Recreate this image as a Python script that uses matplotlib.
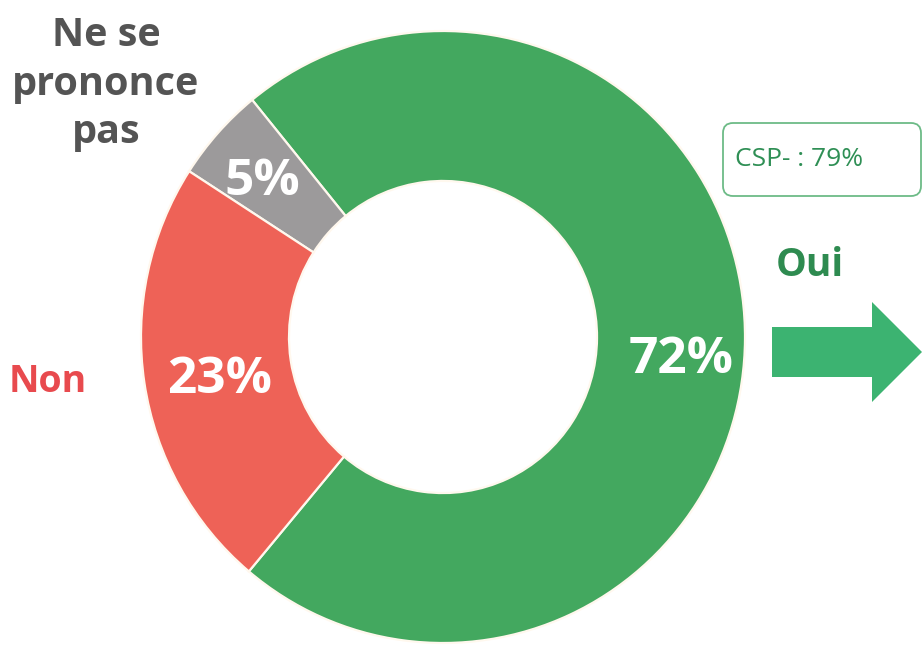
import matplotlib
matplotlib.use("Agg")
import matplotlib.pyplot as plt
from matplotlib.patches import FancyBboxPatch, FancyArrow

# Data
categories = ["Oui", "Ne se\nprononce\npas", "Non"]
values = [72, 5, 23]
colors = ["#43A85F", "#9C9A9B", "#EE6257"]
highlight_label = "CSP- : 79%"

W, H = 924, 646
fig = plt.figure(figsize=(W / 100, H / 100), dpi=100)
fig.patch.set_facecolor("white")

# Donut axes, centre (443, 337), radius ~302 x 306 px
cx, cy, rx, ry = 443, 337, 302, 306
pax = fig.add_axes([(cx - rx) / W, (H - cy - ry) / H, 2 * rx / W, 2 * ry / H])
wedges, _ = pax.pie(values, colors=colors, startangle=-130, counterclock=True,
                    radius=1.0,
                    wedgeprops=dict(width=0.49, edgecolor="#FFF8EE", linewidth=1.6))
pax.set_xlim(-1, 1)
pax.set_ylim(-1, 1)
pax.set_aspect("auto")
pax.axis("off")

# Overlay axes in pixel coordinates
ax = fig.add_axes([0, 0, 1, 1])
ax.set_xlim(0, W)
ax.set_ylim(H, 0)
ax.axis("off")
ax.patch.set_alpha(0)

font = "Open Sans"

# value labels (white, in ring)
label_pos = [(681, 360), (262, 182), (220, 380)]
for v, (x, y) in zip(values, label_pos):
    ax.text(x, y, f"{v}%", color="white", fontsize=37, fontweight="bold",
            family=font, ha="center", va="center")

# category labels
ax.text(810, 266, categories[0], color="#2E8B50", fontsize=28, fontweight="bold",
        family=font, ha="center", va="center")
ax.text(106, 84, categories[1], color="#545454", fontsize=28.5, fontweight="bold",
        family=font, ha="center", va="center", linespacing=1.3)
ax.text(48, 382, categories[2], color="#E84A4E", fontsize=27, fontweight="bold",
        family=font, ha="center", va="center")

# arrow
ax.add_patch(FancyArrow(772, 352, 100, 0, width=50, head_width=100,
                        head_length=50, length_includes_head=False,
                        color="#3CB371", linewidth=0))

# CSP box
box = FancyBboxPatch((723, 123), 198, 73, boxstyle="round,pad=0,rounding_size=10",
                     facecolor="white", edgecolor="#6DBB87", linewidth=1.3)
ax.add_patch(box)
ax.text(735, 160, highlight_label, color="#2F8F55", fontsize=19,
        family=font, ha="left", va="center")

fig.savefig("out.png", dpi=100)
